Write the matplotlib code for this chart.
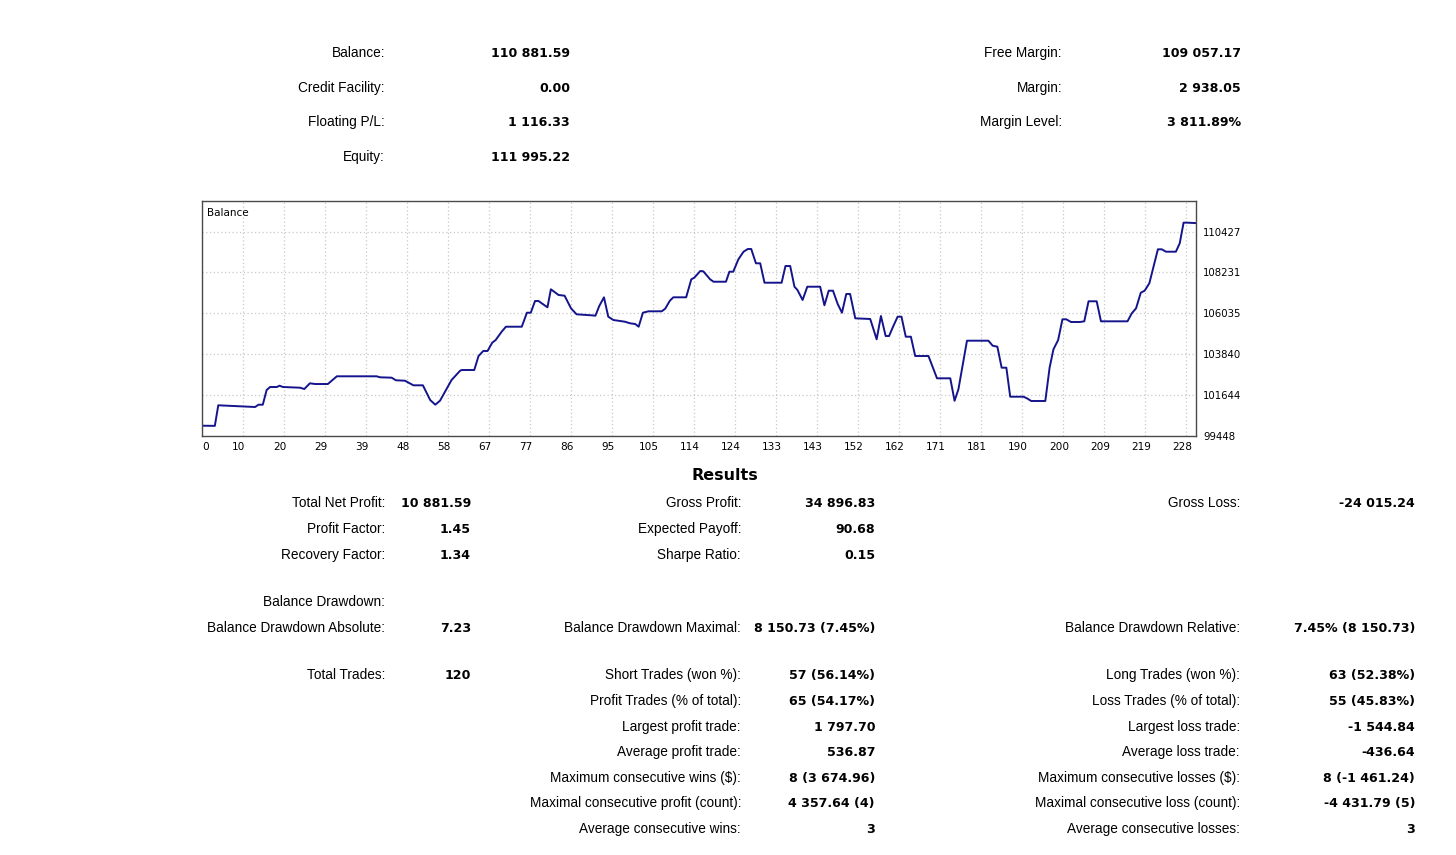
import matplotlib
matplotlib.use('Agg')
import matplotlib.pyplot as plt
import matplotlib.transforms as mtransforms

# balance curve (deal index, balance)
bal_x = [0, 3.0, 3.8, 8.9, 12.4, 13.2, 14.2, 15.1, 15.9, 17.5, 18.1, 18.9, 22.9, 23.9, 25.2, 26.4, 29.4,
         31.5, 40.8, 41.6, 44.3, 45.3, 47.4, 49.4, 51.6, 53.3, 54.5, 55.6, 58.3, 60.3, 60.7, 63.6, 64.6,
         65.7, 66.7, 67.8, 68.6, 70.0, 71.0, 74.7, 75.9, 76.8, 77.8, 78.6, 80.7, 81.5, 83.3, 84.7, 86.2,
         87.5, 91.0, 91.9, 92.8, 93.9, 94.9, 96.1, 98.8, 100.0, 101.2, 102.0, 103.0, 104.3, 107.4, 108.2,
         109.3, 110.1, 113.1, 114.3, 115.0, 116.4, 117.1, 118.7, 119.5, 122.4, 123.2, 124.1, 125.3, 126.5,
         127.5, 128.3, 129.4, 130.4, 131.4, 135.4, 136.3, 137.4, 138.4, 139.1, 140.3, 141.4, 144.4, 145.4,
         146.4, 147.4, 148.5, 149.5, 150.5, 151.4, 152.6, 156.1, 157.6, 158.6, 159.7, 160.5, 161.5, 162.5,
         163.4, 164.4, 165.6, 166.6, 169.7, 171.7, 174.8, 175.8, 176.7, 178.7, 183.7, 184.7, 185.8, 186.8,
         187.9, 188.8, 191.9, 192.7, 193.7, 197.0, 198.0, 198.9, 200.0, 201.0, 201.9, 203.0, 205.1, 206.1,
         207.1, 209.0, 210.0, 216.2, 217.2, 218.2, 219.3, 220.2, 221.3, 223.3, 224.2, 225.2, 227.5, 228.4,
         229.3, 230.1, 232.2]
bal_y = [100000, 99992.77, 101097, 101043, 101005, 101129, 101129, 101918, 102079, 102079, 102150, 102079,
         102042, 101972, 102278, 102240, 102240, 102654, 102654, 102600, 102580, 102440, 102418, 102170,
         102170, 101381, 101129, 101344, 102455, 102955, 102992, 102992, 103744, 104013, 104013, 104459,
         104603, 105049, 105317, 105317, 106069, 106069, 106698, 106698, 106359, 107326, 107020, 106982,
         106305, 105983, 105929, 105908, 106429, 106896, 105855, 105677, 105586, 105500, 105463, 105317,
         106069, 106145, 106145, 106284, 106714, 106896, 106896, 107862, 107950, 108309, 108293, 107862,
         107733, 107733, 108271, 108271, 108937, 109345, 109490, 109490, 108722, 108722, 107680, 107680,
         108577, 108577, 107465, 107288, 106752, 107465, 107465, 106467, 107251, 107251, 106537, 106069,
         107074, 107074, 105768, 105731, 104641, 105892, 104818, 104818, 105355, 105855, 105855, 104780,
         104780, 103744, 103744, 102546, 102546, 101339, 101956, 104566, 104566, 104297, 104244, 103116,
         103116, 101558, 101558, 101473, 101328, 101328, 103116, 104104, 104603, 105715, 105715, 105570,
         105570, 105607, 106682, 106682, 105607, 105607, 106037, 106305, 107143, 107251, 107648, 109474,
         109474, 109345, 109345, 109796, 110905, 110905, 110881.59]

x_tick_labels = ['0', '10', '20', '29', '39', '48', '58', '67', '77', '86', '95', '105', '114', '124',
                 '133', '143', '152', '162', '171', '181', '190', '200', '209', '219', '228']
x_tick_step = 9.579
y_ticks = [99448, 101644, 103840, 106035, 108231, 110427]

account_labels = ['Balance:', 'Credit Facility:', 'Floating P/L:', 'Equity:']
account_values = ['110 881.59', '0.00', '1 116.33', '111 995.22']
margin_labels = ['Free Margin:', 'Margin:', 'Margin Level:']
margin_values = ['109 057.17', '2 938.05', '3 811.89%']

res1_labels = ['Total Net Profit:', 'Profit Factor:', 'Recovery Factor:', 'Balance Drawdown:',
               'Balance Drawdown Absolute:', 'Total Trades:']
res1_values = ['10 881.59', '1.45', '1.34', '', '7.23', '120']
res2_labels = ['Gross Profit:', 'Expected Payoff:', 'Sharpe Ratio:', 'Balance Drawdown Maximal:',
               'Short Trades (won %):', 'Profit Trades (% of total):', 'Largest profit trade:',
               'Average profit trade:', 'Maximum consecutive wins ($):',
               'Maximal consecutive profit (count):', 'Average consecutive wins:']
res2_values = ['34 896.83', '90.68', '0.15', '8 150.73 (7.45%)', '57 (56.14%)', '65 (54.17%)',
               '1 797.70', '536.87', '8 (3 674.96)', '4 357.64 (4)', '3']
res3_labels = ['Gross Loss:', 'Balance Drawdown Relative:', 'Long Trades (won %):',
               'Loss Trades (% of total):', 'Largest loss trade:', 'Average loss trade:',
               'Maximum consecutive losses ($):', 'Maximal consecutive loss (count):',
               'Average consecutive losses:']
res3_values = ['-24 015.24', '7.45% (8 150.73)', '63 (52.38%)', '55 (45.83%)', '-1 544.84',
               '-436.64', '8 (-1 461.24)', '-4 431.79 (5)', '3']

W, H = 1456, 855
LABEL_FONT = 'Liberation Sans'
VALUE_FONT = 'DejaVu Sans'

fig = plt.figure(figsize=(W / 100, H / 100), dpi=100)
fig.patch.set_facecolor('white')


def px(x, y):
    return x / W, 1 - y / H


def draw_block(x_label, x_value, ys, labels, values):
    # ys are the cap centres of each row, text is placed on its baseline
    for y, lab, val in zip(ys, labels, values):
        fig.text(*px(x_label, y + 5), lab, ha='right', va='baseline', fontsize=9.8,
                 family=LABEL_FONT, color='#000000')
        if val:
            fig.text(*px(x_value, y + 5), val, ha='right', va='baseline', fontsize=9.1,
                     family=VALUE_FONT, fontweight='bold', color='#000000')


# account summary
draw_block(385, 570, [52, 87, 121, 156], account_labels, account_values)
draw_block(1062, 1241, [52, 87, 121], margin_labels, margin_values)

# balance chart
left, top, right, bottom = 202, 201, 1196, 436
ax = fig.add_axes([left / W, 1 - bottom / H, (right - left) / W, (bottom - top) / H])
ax.plot(bal_x, bal_y, '-', color='#14148c', linewidth=1.4)
ax.set_xlim(0, 232.2)
ax.set_ylim(99448, 112068)

xt = [i * x_tick_step for i in range(len(x_tick_labels))]
ax.set_xticks(xt)
ax.set_xticklabels(x_tick_labels, family=VALUE_FONT, fontsize=7.6)
ax.set_yticks(y_ticks)
ax.set_yticklabels([str(v) for v in y_ticks], family=VALUE_FONT, fontsize=7.3)
ax.yaxis.tick_right()
ax.tick_params(axis='both', length=0, colors='#000000')
ax.tick_params(axis='y', pad=5)
ax.tick_params(axis='x', pad=4)
for i, lab in enumerate(ax.get_xticklabels()):
    dx = 4 if i == 0 else -4
    lab.set_transform(lab.get_transform() + mtransforms.ScaledTranslation(dx / 100, 0, fig.dpi_scale_trans))

ax.grid(True, color='#c8c8c8', linestyle=(0, (1, 2)), linewidth=0.9)
for s in ax.spines.values():
    s.set_color('#4a4a4a')
    s.set_linewidth(1)
ax.text(0.005, 0.95, 'Balance', transform=ax.transAxes, ha='left', va='center',
        family=VALUE_FONT, fontsize=7.5)

# results
fig.text(*px(725, 475), 'Results', ha='center', va='center', fontsize=11.5,
         family=VALUE_FONT, fontweight='bold')
rows = [502, 528, 554, 601, 627, 674, 700, 726, 751, 777, 802, 828]
draw_block(385, 471, rows[:6], res1_labels, res1_values)
draw_block(741, 875, rows[:3] + rows[4:], res2_labels, res2_values)
draw_block(1240, 1415, [rows[0]] + rows[4:], res3_labels, res3_values)

fig.savefig('out.png', dpi=100, facecolor='white')
